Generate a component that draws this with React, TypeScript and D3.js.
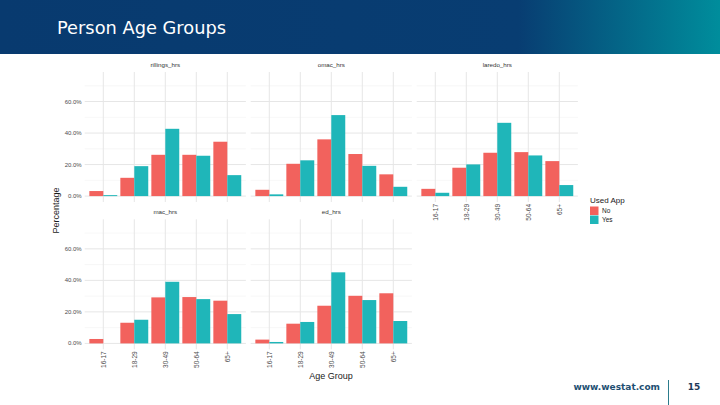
import React from "react";
import * as d3 from "d3";

const ageGroups = ["16-17", "18-29", "30-49", "50-64", "65+"];
const panelNames = ["rillings_hrs", "omac_hrs", "laredo_hrs", "mac_hrs", "ed_hrs"];
const usedApp = ["No", "Yes"];
const yTicks = [0, 0.2, 0.4, 0.6];
const yMinor = [0.1, 0.3, 0.5, 0.7];

const rillingsNo = [0.032, 0.116, 0.262, 0.262, 0.345];
const rillingsYes = [0.006, 0.19, 0.427, 0.256, 0.133];
const omacNo = [0.04, 0.205, 0.36, 0.267, 0.138];
const omacYes = [0.011, 0.227, 0.514, 0.192, 0.059];
const laredoNo = [0.046, 0.18, 0.275, 0.279, 0.222];
const laredoYes = [0.021, 0.201, 0.465, 0.258, 0.07];
const macNo = [0.028, 0.131, 0.292, 0.294, 0.271];
const macYes = [0, 0.15, 0.391, 0.281, 0.186];
const edNo = [0.024, 0.125, 0.239, 0.302, 0.318];
const edYes = [0.009, 0.136, 0.451, 0.275, 0.142];

const seriesByPanel = [
  [rillingsNo, rillingsYes],
  [omacNo, omacYes],
  [laredoNo, laredoYes],
  [macNo, macYes],
  [edNo, edYes],
];

const colors = ["#F2625D", "#1FB6B9"];
const colLefts = [84.7, 250.7, 416.7];
const panelW = 161.2;
const rows = [
  { top: 72, bottom: 202 },
  { top: 219.3, bottom: 349.3 },
];
const chartFont = "'Liberation Sans', Arial, sans-serif";

function Panel({ idx }: { idx: number }) {
  const col = idx % 3;
  const row = Math.floor(idx / 3);
  const left = colLefts[col];
  const { top, bottom } = rows[row];
  const x = d3.scaleLinear().domain([0.4, 5.6]).range([left, left + panelW]);
  const y = d3.scaleLinear().domain([-0.0375, 0.7875]).range([bottom, top]);
  const bw = x(1.45) - x(1);
  const showX = row === 1 || idx === 2;
  const showY = col === 0;
  const series = seriesByPanel[idx];
  return (
    <g>
      <text x={left + panelW / 2} y={top - 5} fontSize={6.2} fill="#333333" textAnchor="middle" fontFamily={chartFont}>
        {panelNames[idx]}
      </text>
      {yMinor.map((v) => (
        <line key={"mn" + v} x1={left} x2={left + panelW} y1={y(v)} y2={y(v)} stroke="#EEEEEE" strokeWidth={0.5} />
      ))}
      {yTicks.map((v) => (
        <line key={"mj" + v} x1={left} x2={left + panelW} y1={y(v)} y2={y(v)} stroke="#E6E6E6" strokeWidth={1} />
      ))}
      {ageGroups.map((g, i) => (
        <line key={"vx" + g} x1={x(i + 1)} x2={x(i + 1)} y1={top} y2={bottom} stroke="#E6E6E6" strokeWidth={1} />
      ))}
      {series.map((vals, s) =>
        vals.map((v, i) =>
          v > 0 ? (
            <rect
              key={s + "-" + i}
              x={x(i + 1) - bw + s * bw}
              y={y(v)}
              width={bw}
              height={y(0) - y(v)}
              fill={colors[s]}
            />
          ) : null
        )
      )}
      {showY &&
        yTicks.map((v) => (
          <text key={"yt" + v} x={left - 3} y={y(v)} dy="0.35em" fontSize={6} fill="#4d4d4d" textAnchor="end" fontFamily={chartFont}>
            {d3.format(".1%")(v)}
          </text>
        ))}
      {showX &&
        ageGroups.map((g, i) => (
          <text
            key={"xt" + g}
            transform={`translate(${x(i + 1)},${bottom + 2}) rotate(-90)`}
            dy="0.35em"
            fontSize={6.5}
            fill="#4d4d4d"
            textAnchor="end"
            fontFamily={chartFont}
          >
            {g}
          </text>
        ))}
    </g>
  );
}

export default function App() {
  return (
    <div style={{ position: "fixed", left: 0, top: 0 }}>
      <svg width={720} height={405} style={{ display: "block", background: "#ffffff" }}>
        <defs>
          <linearGradient id="hdr" x1="0" x2="1" y1="0" y2="0">
            <stop offset="0" stopColor="#083A6F" />
            <stop offset="0.72" stopColor="#083D72" />
            <stop offset="1" stopColor="#008D9C" />
          </linearGradient>
        </defs>
        <rect x={0} y={0} width={720} height={54} fill="url(#hdr)" />
        <text
          x={57}
          y={34}
          fontSize={17}
          textLength={169}
          lengthAdjust="spacingAndGlyphs"
          fill="#ffffff"
          fontFamily="'DejaVu Sans', Verdana, sans-serif"
        >
          Person Age Groups
        </text>
        {panelNames.map((_, i) => (
          <Panel key={i} idx={i} />
        ))}
        <text
          transform="translate(59,210.5) rotate(-90)"
          fontSize={9}
          fill="#1a1a1a"
          textAnchor="middle"
          fontFamily={chartFont}
        >
          Percentage
        </text>
        <text x={331} y={379} fontSize={9} fill="#1a1a1a" textAnchor="middle" fontFamily={chartFont}>
          Age Group
        </text>
        <text x={590} y={203} fontSize={8} fill="#1a1a1a" fontFamily={chartFont}>
          Used App
        </text>
        {usedApp.map((u, i) => (
          <g key={u}>
            <rect x={590} y={206.5 + i * 9} width={8.5} height={8.5} fill={colors[i]} />
            <text x={602} y={211 + i * 9} dy="0.35em" fontSize={6.5} fill="#1a1a1a" fontFamily={chartFont}>
              {u}
            </text>
          </g>
        ))}
        <text x={660} y={390} fontSize={9} fontWeight="bold" fill="#1E4F72" textAnchor="end" fontFamily="'DejaVu Sans', Verdana, sans-serif">
          www.westat.com
        </text>
        <line x1={668.5} x2={668.5} y1={380} y2={405} stroke="#2C7C8C" strokeWidth={1} />
        <text x={694} y={390} fontSize={9} fontWeight="bold" fill="#1E3A5A" textAnchor="middle" fontFamily="'DejaVu Sans', Verdana, sans-serif">
          15
        </text>
      </svg>
    </div>
  );
}
